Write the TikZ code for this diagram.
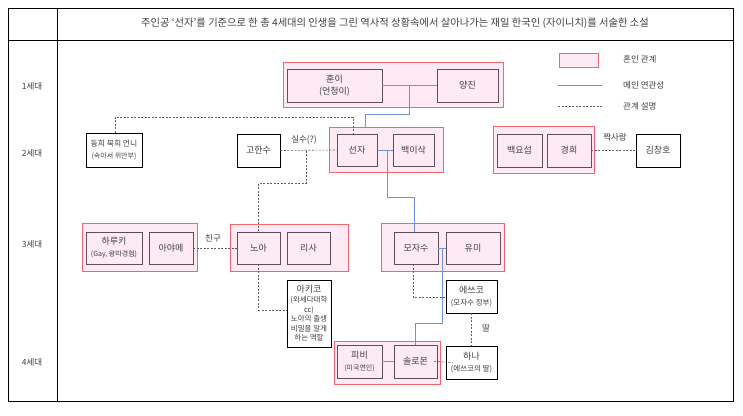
\documentclass[tikz,border=0pt]{standalone}
\usepackage{fontspec}
\setmainfont{Noto Sans CJK KR}
\definecolor{grpred}{HTML}{F2666E}
\definecolor{pinkfill}{HTML}{FDEAF4}
\definecolor{inbord}{HTML}{5E5058}
\definecolor{txtgray}{HTML}{404040}
\definecolor{lineblue}{HTML}{6E93D8}
\definecolor{dashgray}{HTML}{606060}
\tikzset{
  grp/.style={draw=grpred, fill=pinkfill, line width=1pt, inner sep=0pt},
  inb/.style={draw=inbord, fill=pinkfill, line width=0.9pt, text=txtgray, align=center, inner sep=0pt, font=\fontsize{9}{12}\selectfont},
  plb/.style={draw=black, fill=white, line width=0.9pt, text=txtgray, align=center, inner sep=0pt, font=\fontsize{9}{12}\selectfont},
  blueln/.style={draw=lineblue, line width=1pt},
  dsh/.style={draw=dashgray, line width=0.6pt, dash pattern=on 2pt off 1.5pt},
  lbl/.style={text=txtgray, font=\fontsize{8.5}{10}\selectfont, inner sep=0pt},
  gen/.style={text=txtgray, font=\fontsize{8.5}{10}\selectfont, inner sep=0pt},
  frame/.style={draw=black, line width=0.8pt}
}
\newcommand\mkb[7]{\node[#1, minimum width={#5-#3}, minimum height={#6-#4}] (#2) at ({(#3+#5)/2},{(#4+#6)/2}) {#7};}
\newcommand\sm[1]{{\fontsize{7}{9}\selectfont #1}}
\newcommand\smm[1]{{\fontsize{7.5}{10}\selectfont #1}}
\begin{document}
\begin{tikzpicture}[x=1pt,y=-1pt]
\useasboundingbox (0,0) rectangle (743,415);
% frame
\node[frame, minimum width=725, minimum height=393, inner sep=0pt] (outer) at (370.5,204.5) {};
\coordinate (dvT) at (57,8);
\coordinate (dvB) at (57,401);
\coordinate (hrL) at (8,40);
\coordinate (hrR) at (733,40);
\draw[frame] (dvT) -- (dvB);
\draw[frame] (hrL) -- (hrR);
\node[text=txtgray, font=\fontsize{10.3}{12}\selectfont, inner sep=0pt] (title) at (395,23) {주인공 ‘선자’를 기준으로 한 총 4세대의 인생을 그린 역사적 상황속에서 살아나가는 재일 한국인 (자이니치)를 서술한 소설};
\node[gen] (g1lab) at (32,86) {1세대};
\node[gen] (g2lab) at (32,153) {2세대};
\node[gen] (g3lab) at (32,244) {3세대};
\node[gen] (g4lab) at (32,362) {4세대};
% groups
\mkb{grp}{gA}{283}{62}{503}{107}{}
\mkb{grp}{gB}{329}{127}{443}{172}{}
\mkb{grp}{gC}{493}{126}{594}{173}{}
\mkb{grp}{gD}{82}{223}{197}{271}{}
\mkb{grp}{gE}{230}{224}{348}{271}{}
\mkb{grp}{gF}{381}{223}{504}{271}{}
\mkb{grp}{gG}{334}{341}{440}{384}{}
% pink boxes
\mkb{inb}{hun}{287}{69}{382}{102}{훈이\\(언청이)}
\mkb{inb}{yang}{437}{69}{498}{102}{양진}
\mkb{inb}{sun}{337}{134}{377}{166}{선자}
\mkb{inb}{baek}{393}{134}{434}{166}{백이삭}
\mkb{inb}{yoseb}{497}{134}{542}{167}{백요섭}
\mkb{inb}{kyung}{547}{134}{591}{167}{경희}
\mkb{inb}{haru}{86}{232}{142}{264}{하루키\\\sm{(Gay, 왕따경험)}}
\mkb{inb}{aya}{149}{232}{193}{264}{아야메}
\mkb{inb}{noa}{237}{232}{280}{264}{노아}
\mkb{inb}{lisa}{287}{232}{330}{264}{리사}
\mkb{inb}{moza}{394}{232}{438}{264}{모자수}
\mkb{inb}{yumi}{446}{232}{500}{264}{유미}
\mkb{inb}{pibi}{337}{345}{382}{378}{피비\\\sm{(미국연인)}}
\mkb{inb}{solo}{394}{345}{437}{378}{솔로몬}
% plain boxes
\mkb{plb}{dong}{86}{133}{142}{167}{{\fontsize{7.8}{11}\selectfont 동희 북희 언니}\\\sm{(속아서 위안부)}}
\mkb{plb}{go}{237}{134}{280}{167}{고한수}
\mkb{plb}{kim}{636}{134}{680}{167}{김창호}
\mkb{plb}{aki}{287}{280}{331}{347}{아키코\\[-2pt]\smm{(와세다대학}\\[-2.5pt]\smm{cc)}\\[-2.5pt]\smm{노아의 출생}\\[-2.5pt]\smm{비밀을 알게}\\[-2.5pt]\smm{하는 역할}}
\mkb{plb}{etsu}{446}{280}{497}{313}{에쓰코\\\smm{(모자수 정부)}}
\mkb{plb}{hana}{446}{346}{497}{379}{하나\\\smm{(에쓰코의 딸)}}
% blue connectors
\coordinate (b1a) at (409,85.5);
\coordinate (b1b) at (409,114);
\coordinate (b1c) at (365,114);
\draw[blueln] (hun.east) -- (yang.west);
\draw[blueln] (b1a) -- (b1b) -- (b1c) -- (b1c |- gB.north);
\coordinate (b2a) at (387,150);
\coordinate (b2b) at (387,197);
\coordinate (b2c) at (414,197);
\draw[blueln] (sun.east) -- (baek.west);
\draw[blueln] (b2a) -- (b2b) -- (b2c) -- (b2c |- moza.north);
\coordinate (b3a) at (442,248);
\coordinate (b3b) at (442,323);
\coordinate (b3c) at (415.5,323);
\draw[blueln] (moza.east) -- (yumi.west);
\draw[blueln] (b3a) -- (b3b) -- (b3c) -- (solo.north);
\draw[blueln] (pibi.east) -- (solo.west);
% dashed connectors
\coordinate (d1a) at (115,117);
\coordinate (d1b) at (353,117);
\draw[dsh] (dong.north -| d1a) -- (d1a) -- (d1b) -- (d1b |- sun.north);
\draw[dsh] (go.east) -- (sun.west);
\node[lbl] (silsu) at (304,140) {실수(?)};
\coordinate (d2a) at (306,150.5);
\coordinate (d2b) at (306,183);
\coordinate (d2c) at (258.5,183);
\draw[dsh] (d2a) -- (d2b) -- (d2c) -- (noa.north);
\coordinate (d3a) at (258.5,310);
\draw[dsh] (noa.south) -- (d3a) -- (d3a -| aki.west);
\draw[dsh] (aya.east) -- (noa.west);
\node[lbl] (chingu) at (213,238) {친구};
\draw[dsh] (kyung.east) -- (kim.west);
\node[lbl] (jjak) at (615,137) {짝사랑};
\coordinate (d4a) at (413,264);
\coordinate (d4b) at (413,297);
\draw[dsh] (d4a) -- (d4b) -- (d4b -| etsu.west);
\draw[dsh] (etsu.south) -- (hana.north);
\node[lbl] (ttal) at (486,328) {딸};
\draw[dsh] ([xshift=-3pt]solo.east) -- ([xshift=7pt]hana.west);
% legend
\mkb{grp}{legbox}{559}{53}{598}{67}{}
\node[lbl, anchor=west] (legt1) at (623,59) {혼인 관계};
\coordinate (lb1) at (558,85);
\coordinate (lb2) at (602,85);
\draw[blueln] (lb1) -- (lb2);
\node[lbl, anchor=west] (legt2) at (623,85) {메인 연관성};
\coordinate (ld1) at (558,106);
\coordinate (ld2) at (602,106);
\draw[dsh] (ld1) -- (ld2);
\node[lbl, anchor=west] (legt3) at (623,106) {관계 설명};
\end{tikzpicture}
\end{document}
